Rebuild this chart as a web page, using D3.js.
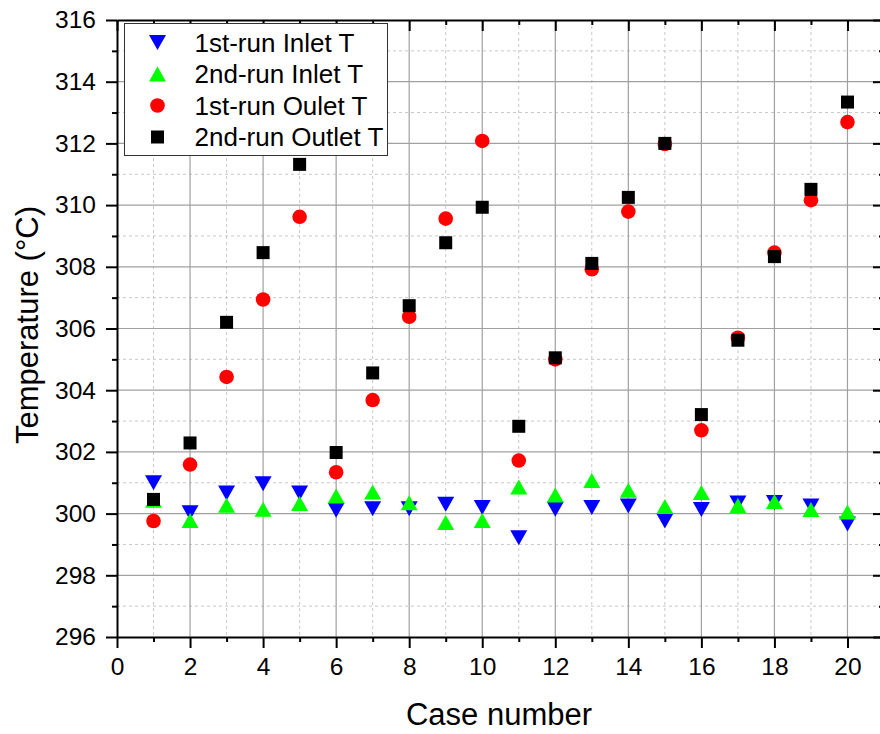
<!DOCTYPE html>
<html>
<head>
<meta charset="utf-8">
<script src="https://cdn.jsdelivr.net/npm/d3@7"></script>
<style>
  body { margin: 0; background: #fff; }
  svg { display: block; font-family: Arial, "Liberation Sans", sans-serif; }
</style>
</head>
<body>
<script>
// data
const cases = [1, 2, 3, 4, 5, 6, 7, 8, 9, 10, 11, 12, 13, 14, 15, 16, 17, 18, 19, 20]
const inlet1 = [301.0, 300.03, 300.67, 300.97, 300.67, 300.11, 300.16, 300.16, 300.30, 300.20, 299.22, 300.14, 300.20, 300.25, 299.76, 300.13, 300.34, 300.36, 300.25, 299.66]
const inlet2 = [300.43, 299.78, 300.27, 300.14, 300.33, 300.57, 300.70, 300.35, 299.71, 299.78, 300.86, 300.6, 301.07, 300.76, 300.23, 300.68, 300.26, 300.39, 300.13, 300.05]
const outlet1 = [299.76, 301.59, 304.43, 306.94, 309.62, 301.34, 303.68, 306.38, 309.56, 312.08, 301.72, 305.0, 307.92, 309.79, 311.98, 302.7, 305.7, 308.46, 310.16, 312.69]
const outlet2 = [300.46, 302.29, 306.2, 308.46, 311.32, 301.98, 304.56, 306.74, 308.78, 309.93, 302.83, 305.05, 308.11, 310.25, 312.0, 303.21, 305.62, 308.33, 310.51, 313.34]
const seriesNames = ['1st-run Inlet T', '2nd-run Inlet T', '1st-run Oulet T', '2nd-run Outlet T']
const xTicks = [0, 2, 4, 6, 8, 10, 12, 14, 16, 18, 20]
const yTicks = [296, 298, 300, 302, 304, 306, 308, 310, 312, 314, 316]

const W = 880, H = 734
const margin = { left: 117, top: 20, right: -4, bottom: 97 }
const width = W - margin.left - margin.right
const height = H - margin.top - margin.bottom

// bbox-centred marker shapes
const triDown = { draw(ctx) { ctx.moveTo(-8.5, -7.5); ctx.lineTo(8.5, -7.5); ctx.lineTo(0, 7.5); ctx.closePath() } }
const triUp = { draw(ctx) { ctx.moveTo(-8.5, 7.5); ctx.lineTo(8.5, 7.5); ctx.lineTo(0, -7.5); ctx.closePath() } }
const circ = { draw(ctx) { ctx.moveTo(7.3, 0); ctx.arc(0, 0, 7.3, 0, 2 * Math.PI) } }
const sq = { draw(ctx) { ctx.rect(-6.5, -6.5, 13, 13) } }

const series = [
  { name: seriesNames[0], values: inlet1, color: '#0000ff', shape: triDown },
  { name: seriesNames[1], values: inlet2, color: '#00ff00', shape: triUp },
  { name: seriesNames[2], values: outlet1, color: '#ff0000', shape: circ },
  { name: seriesNames[3], values: outlet2, color: '#000000', shape: sq }
]

const x = d3.scaleLinear().domain([0, 21]).range([0, width])
const y = d3.scaleLinear().domain([296, 316]).range([height, 0])

const svg = d3.select('body').append('svg')
  .attr('width', W)
  .attr('height', H)

const g = svg.append('g')
  .attr('transform', `translate(${margin.left},${margin.top})`)

// GRID
const minorX = d3.range(1, 21, 2)
const minorY = d3.range(297, 316, 2)

g.append('g').selectAll('line').data(minorX).enter().append('line')
  .attr('x1', d => x(d)).attr('x2', d => x(d))
  .attr('y1', 0).attr('y2', height)
  .attr('stroke', '#c8c8c8').attr('stroke-dasharray', '3,3')
g.append('g').selectAll('line').data(minorY).enter().append('line')
  .attr('y1', d => y(d)).attr('y2', d => y(d))
  .attr('x1', 0).attr('x2', width)
  .attr('stroke', '#c8c8c8').attr('stroke-dasharray', '3,3')
g.append('g').selectAll('line').data(xTicks.slice(1)).enter().append('line')
  .attr('x1', d => x(d)).attr('x2', d => x(d))
  .attr('y1', 0).attr('y2', height)
  .attr('stroke', '#a0a0a0').attr('stroke-width', 1.2)
g.append('g').selectAll('line').data(yTicks.slice(1, -1)).enter().append('line')
  .attr('y1', d => y(d)).attr('y2', d => y(d))
  .attr('x1', 0).attr('x2', width)
  .attr('stroke', '#a0a0a0').attr('stroke-width', 1.2)

// AXES
function styleAxis(sel) {
  sel.select('.domain').attr('stroke', '#000').attr('stroke-width', 2)
  sel.selectAll('.tick line').attr('stroke', '#000').attr('stroke-width', 2)
  sel.selectAll('.tick text').attr('font-size', 24.5).attr('fill', '#000')
}

const xAxis = g.append('g').attr('transform', `translate(0,${height})`)
  .call(d3.axisBottom(x).tickValues(xTicks).tickSize(11).tickPadding(4).tickSizeOuter(0))
  .call(styleAxis)
xAxis.selectAll('.tick text').attr('dy', '0.95em')
g.append('g').attr('transform', `translate(0,${height})`)
  .call(d3.axisBottom(x).tickValues(minorX).tickSize(5).tickFormat('').tickSizeOuter(0))
  .call(styleAxis).select('.domain').remove()

const yAxis = g.append('g')
  .call(d3.axisLeft(y).tickValues(yTicks).tickSize(11).tickPadding(10).tickSizeOuter(0))
  .call(styleAxis)
g.append('g')
  .call(d3.axisLeft(y).tickValues(minorY).tickSize(5).tickFormat('').tickSizeOuter(0))
  .call(styleAxis).select('.domain').remove()

// top and right mirror axes, ticks inward
g.append('g')
  .call(d3.axisTop(x).tickValues(xTicks).tickSize(-11).tickFormat('').tickSizeOuter(0))
  .call(styleAxis)
g.append('g')
  .call(d3.axisTop(x).tickValues(minorX).tickSize(-5).tickFormat('').tickSizeOuter(0))
  .call(styleAxis).select('.domain').remove()
g.append('g').attr('transform', `translate(${width},0)`)
  .call(d3.axisRight(y).tickValues(yTicks).tickSize(-11).tickFormat('').tickSizeOuter(0))
  .call(styleAxis)
g.append('g').attr('transform', `translate(${width},0)`)
  .call(d3.axisRight(y).tickValues(minorY).tickSize(-5).tickFormat('').tickSizeOuter(0))
  .call(styleAxis).select('.domain').remove()

// AXIS TITLES
svg.append('text')
  .attr('x', 499).attr('y', 725)
  .attr('text-anchor', 'middle')
  .attr('font-size', 31)
  .text('Case number')
svg.append('text')
  .attr('transform', 'translate(38,325) rotate(-90)')
  .attr('text-anchor', 'middle')
  .attr('font-size', 31)
  .text('Temperature (°C)')

// MARKERS
series.forEach(s => {
  g.append('g').selectAll('path')
    .data(cases.map((c, i) => ({ c: c, v: s.values[i] })))
    .enter().append('path')
    .attr('d', d3.symbol().type(s.shape))
    .attr('transform', d => `translate(${x(d.c)},${y(d.v)})`)
    .attr('fill', s.color)
})

// LEGEND
const legend = svg.append('g').attr('transform', 'translate(124.5,23.5)')
legend.append('rect')
  .attr('width', 263).attr('height', 132)
  .attr('fill', '#fff').attr('stroke', '#333').attr('stroke-width', 1)
const item = legend.selectAll('.item').data(series).enter().append('g')
  .attr('transform', (d, i) => `translate(0,${19 + i * 31.5})`)
item.append('path')
  .attr('d', d => d3.symbol().type(d.shape)())
  .attr('transform', 'translate(33,0)')
  .attr('fill', d => d.color)
item.append('text')
  .attr('x', 70).attr('dy', '0.36em')
  .attr('font-size', 26)
  .text(d => d.name)
</script>
</body>
</html>
